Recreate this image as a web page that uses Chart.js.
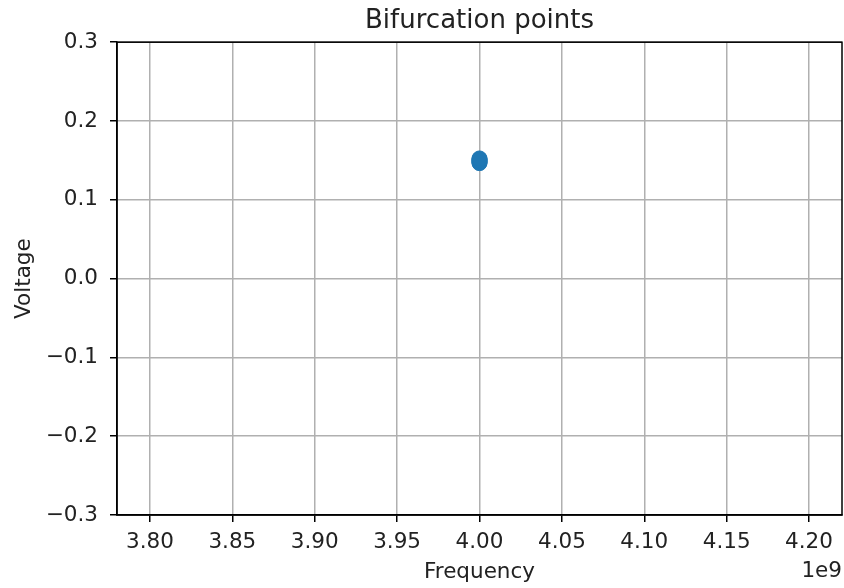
<!DOCTYPE html>
<html>
<head>
<meta charset="utf-8">
<script src="https://cdn.jsdelivr.net/npm/chart.js@4/dist/chart.umd.min.js"></script>
<style>
html, body { margin: 0; padding: 0; background: #fff; }
canvas { display: block; }
</style>
</head>
<body>
<canvas id="chart" width="844" height="588"></canvas>
<script>
// bifurcation points (all sit at 4 GHz, stacked around 0.15 V)
var frequency = [4.0e9, 4.0e9, 4.0e9, 4.0e9, 4.0e9, 4.0e9, 4.0e9];
var voltage = [0.1465, 0.1475, 0.1485, 0.1495, 0.1505, 0.1515, 0.1525];

var xTicks = [3.80e9, 3.85e9, 3.90e9, 3.95e9, 4.00e9, 4.05e9, 4.10e9, 4.15e9, 4.20e9];
var yTicks = [-0.3, -0.2, -0.1, 0.0, 0.1, 0.2, 0.3];
var xRange = [3.78e9, 4.22e9];
var yRange = [-0.3, 0.3];

var FONT = '"DejaVu Sans", sans-serif';
var TEXT = '#222';
var SIZE = 21.5;

var points = frequency.map(function (f, i) {
    return { x: f, y: voltage[i] };
});

// box round the axes + the "1e9" offset label
var framePlugin = {
    id: 'frame',
    afterDraw: function (chart) {
        var a = chart.chartArea;
        var c = chart.ctx;
        c.save();
        c.strokeStyle = '#000';
        c.lineWidth = 1.5;
        c.strokeRect(a.left, a.top, a.right - a.left, a.bottom - a.top);
        c.font = SIZE + 'px ' + FONT;
        c.fillStyle = TEXT;
        c.textAlign = 'right';
        c.textBaseline = 'alphabetic';
        c.fillText('1e9', a.right, 577);
        c.restore();
    }
};

var gridStyle = {
    color: '#b0b0b0',
    lineWidth: 1.5,
    tickColor: '#000',
    tickWidth: 1.5,
    tickLength: 7
};

new Chart(document.getElementById('chart').getContext('2d'), {
    type: 'scatter',
    data: {
        datasets: [{
            label: 'bifurcation',
            data: points,
            backgroundColor: '#1f77b4',
            borderColor: '#1f77b4',
            borderWidth: 1,
            pointRadius: 7.5,
            pointHoverRadius: 7.5
        }]
    },
    options: {
        responsive: false,
        animation: false,
        devicePixelRatio: 1,
        layout: { autoPadding: false, padding: { left: 0, right: 2, top: 0, bottom: 0 } },
        plugins: {
            legend: { display: false },
            tooltip: { enabled: false },
            title: {
                display: true,
                text: 'Bifurcation points',
                fullSize: false,
                color: TEXT,
                font: { family: FONT, size: 26, weight: 'normal' },
                padding: { top: 6, bottom: 5 }
            }
        },
        scales: {
            x: {
                type: 'linear',
                min: xRange[0],
                max: xRange[1],
                afterBuildTicks: function (scale) {
                    scale.ticks = xTicks.map(function (v) { return { value: v }; });
                },
                afterFit: function (scale) {
                    scale.height = 73;
                    scale.paddingLeft = 0;
                    scale.paddingRight = 0;
                },
                ticks: {
                    autoSkip: false,
                    maxRotation: 0,
                    padding: 8,
                    color: TEXT,
                    font: { family: FONT, size: SIZE },
                    callback: function (v) { return (v / 1e9).toFixed(2); }
                },
                grid: gridStyle,
                border: { color: '#000', width: 1.5 },
                title: {
                    display: true,
                    text: 'Frequency',
                    color: TEXT,
                    font: { family: FONT, size: SIZE },
                    padding: { top: 0, bottom: 3 }
                }
            },
            y: {
                type: 'linear',
                min: yRange[0],
                max: yRange[1],
                afterBuildTicks: function (scale) {
                    scale.ticks = yTicks.map(function (v) { return { value: v }; });
                },
                afterFit: function (scale) {
                    scale.width = 117;
                    scale.paddingTop = 0;
                    scale.paddingBottom = 0;
                },
                ticks: {
                    autoSkip: false,
                    padding: 12,
                    color: TEXT,
                    font: { family: FONT, size: SIZE },
                    callback: function (v) {
                        var s = (Math.abs(v) < 1e-9 ? 0 : v).toFixed(1);
                        return s.replace('-', '\u2212');
                    }
                },
                grid: gridStyle,
                border: { color: '#000', width: 1.5 },
                title: {
                    display: true,
                    text: 'Voltage',
                    color: TEXT,
                    font: { family: FONT, size: SIZE },
                    padding: { top: 12, bottom: 0 }
                }
            }
        }
    },
    plugins: [framePlugin]
});
</script>
</body>
</html>
